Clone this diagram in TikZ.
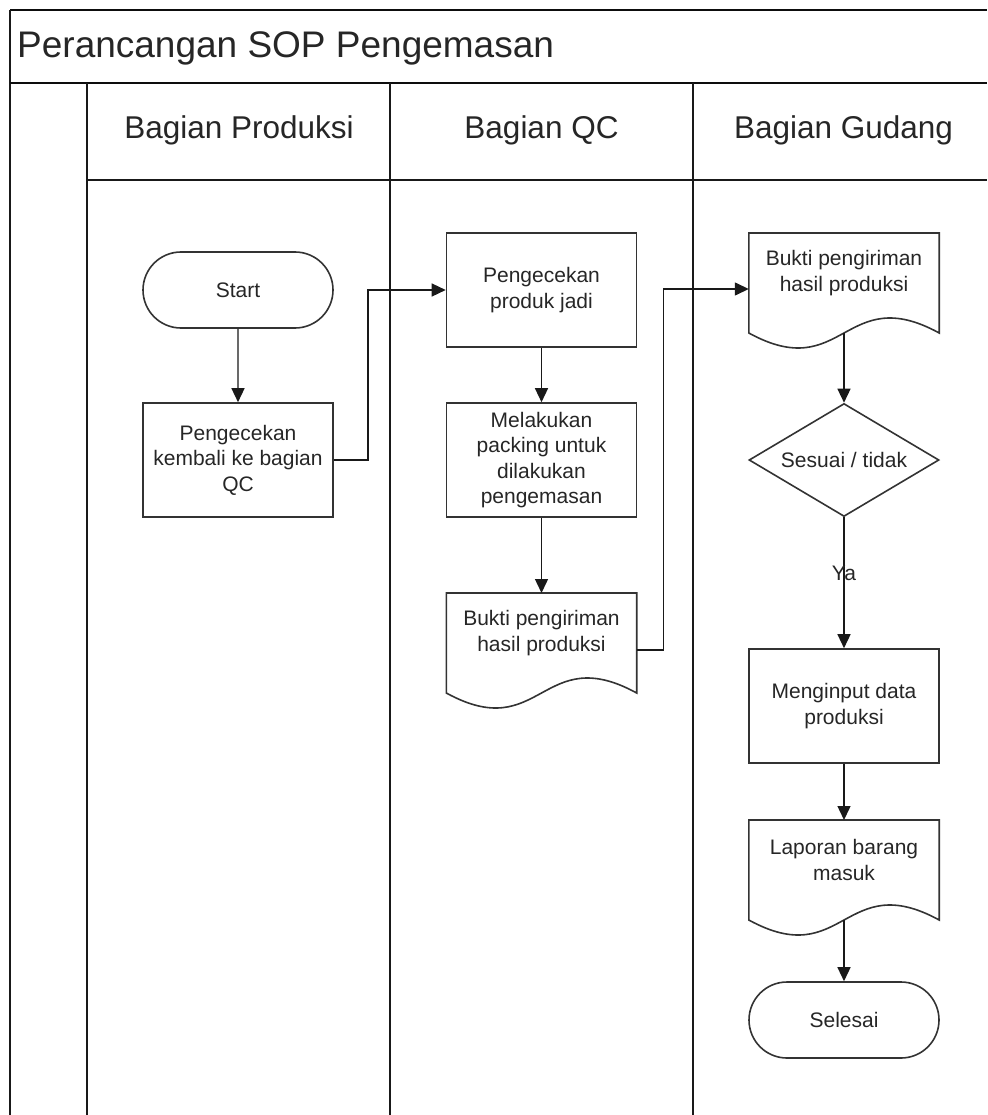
\documentclass[tikz,border=0pt]{standalone}
\usepackage{fontspec}
\setmainfont{Liberation Sans}
\usetikzlibrary{arrows.meta,shapes.misc,shapes.geometric,calc}

% fonts used in the chart
\newcommand\titlefont{\fontsize{37}{42}\selectfont}
\newcommand\lanefont{\fontsize{31.5}{36}\selectfont}
\newcommand\boxfont{\fontsize{21}{25.5}\selectfont}

% document symbol: straight top and sides, wavy bottom edge
\newcommand\docoutline[1]{%
  \draw[boxline] ($(#1.north west)+(0,100)$) -- (#1.north west) -- (#1.north east)
    -- ($(#1.north east)+(0,100)$)
    .. controls +(-95,-52) and +(95,52) .. ($(#1.north west)+(0,100)$) -- cycle;
  \coordinate (#1-foot) at ($(#1.north)+(0,100)$);
}

\begin{document}
\begin{tikzpicture}[x=1pt,y=-1pt,
  frame/.style={line width=1.8pt, draw=black!90},
  thickframe/.style={line width=2.7pt, draw=black!95},
  boxline/.style={line width=1.6pt, draw=black!80},
  proc/.style={boxline, rectangle, minimum width=190pt, minimum height=114pt,
    align=center, font=\boxfont, text=black!85, inner sep=0pt},
  term/.style={boxline, rounded rectangle, minimum width=190pt, minimum height=76pt,
    align=center, font=\boxfont, text=black!85, inner sep=0pt},
  doctext/.style={rectangle, minimum width=190pt, minimum height=80pt, anchor=north,
    align=center, font=\boxfont, text=black!85, inner sep=0pt},
  decision/.style={boxline, diamond, aspect=1.68, minimum width=190pt, minimum height=113pt,
    align=center, font=\boxfont, text=black!85, inner sep=0pt},
  flow/.style={line width=1.4pt, draw=black!90, -{Triangle[length=14pt,width=13pt]}},
  lanehead/.style={anchor=base, font=\lanefont, text=black!85},
]
\useasboundingbox (0,0) rectangle (987,1115);

% pool frame, title bar and lanes
\draw[thickframe] (10,10) -- (987,10);
\draw[frame] (10,10) -- (10,1115);
\draw[thickframe] (10,83) -- (987,83);
\draw[frame] (87,83) -- (87,1115);
\draw[frame] (390,83) -- (390,1115);
\draw[frame] (693,83) -- (693,1115);
\draw[frame] (87,180) -- (987,180);

\node[anchor=base west, font=\titlefont, text=black!85, inner sep=0pt] (title) at (17,57.5) {Perancangan SOP Pengemasan};
\node[lanehead] (hprod) at (239,139) {Bagian Produksi};
\node[lanehead] (hqc) at (541.5,139) {Bagian QC};
\node[lanehead] (hgud) at (843.5,139) {Bagian Gudang};

% Bagian Produksi
\node[term] (start) at (238,290) {Start};
\node[proc] (cek) at (238,460) {Pengecekan\\kembali ke bagian\\QC};

% Bagian QC
\node[proc] (qccek) at (541.5,290) {Pengecekan\\produk jadi};
\node[proc] (pack) at (541.5,460) {Melakukan\\packing untuk\\dilakukan\\pengemasan};
\node[doctext] (qcdoc) at (541.5,593) {Bukti pengiriman\\hasil produksi};
\docoutline{qcdoc}

% Bagian Gudang
\node[doctext] (gdoc) at (844,233) {Bukti pengiriman\\hasil produksi};
\docoutline{gdoc}
\node[decision] (cek2) at (844,460) {Sesuai / tidak};
\node[proc] (input) at (844,706) {Menginput data\\produksi};
\node[doctext] (lap) at (844,820) {Laporan barang\\masuk};
\docoutline{lap}
\node[term] (end) at (844,1020) {Selesai};

% connectors
\coordinate (qcdoc-out) at ($(qcdoc.north east)+(0,57)$);
\coordinate (gdoc-in) at ($(gdoc.north west)+(0,56)$);

\draw[flow] (start) -- (cek);
\draw[flow] (cek.east) -- ++(34,0) |- (qccek.west);
\draw[flow] (qccek) -- (pack);
\draw[flow] (pack) -- (qcdoc);
\draw[flow] (qcdoc-out) -- ++(27,0) |- (gdoc-in);
\draw[flow] (gdoc-foot) -- (cek2.north);
\draw[flow] (cek2.south) -- node[pos=0.43, font=\boxfont, text=black!85, inner sep=0pt] (ya) {Ya} (input.north);
\draw[flow] (input) -- (lap);
\draw[flow] (lap-foot) -- (end);
\end{tikzpicture}
\end{document}
